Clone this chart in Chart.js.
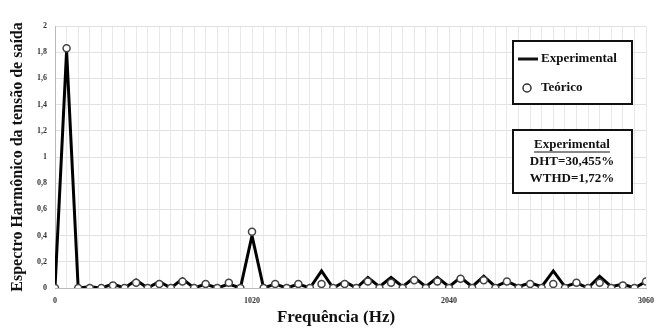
<!DOCTYPE html>
<html>
<head>
<meta charset="utf-8">
<script src="https://cdn.jsdelivr.net/npm/chart.js@4/dist/chart.umd.min.js"></script>
<style>
  html, body { margin: 0; padding: 0; background: #fff; }
  #wrap { width: 662px; height: 330px; }
</style>
</head>
<body>
<div id="wrap"><canvas id="grafico" width="662" height="330"></canvas></div>
<script>
// Harmonic frequencies (Hz), multiples of the 60 Hz fundamental
const frequencias = [0, 60, 120, 180, 240, 300, 360, 420, 480, 540, 600, 660, 720, 780, 840, 900, 960, 1020,
  1080, 1140, 1200, 1260, 1320, 1380, 1440, 1500, 1560, 1620, 1680, 1740, 1800, 1860, 1920, 1980, 2040,
  2100, 2160, 2220, 2280, 2340, 2400, 2460, 2520, 2580, 2640, 2700, 2760, 2820, 2880, 2940, 3000, 3060];

// Measured output-voltage harmonic amplitudes
const experimental = [0, 1.81, 0, 0.01, 0, 0.03, 0, 0.06, 0, 0.05, 0, 0.07, 0, 0.03, 0, 0.03, 0, 0.40,
  0, 0.03, 0, 0.03, 0, 0.13, 0, 0.05, 0, 0.08, 0.01, 0.08, 0.01, 0.08, 0.01, 0.08, 0.01,
  0.08, 0.01, 0.09, 0.01, 0.05, 0.01, 0.04, 0.01, 0.13, 0.01, 0.04, 0, 0.09, 0.01, 0.03, 0, 0.05];

// Theoretical harmonic amplitudes
const teorico = [0, 1.83, 0, 0, 0, 0.02, 0, 0.04, 0, 0.03, 0, 0.05, 0, 0.03, 0, 0.04, 0, 0.43,
  0, 0.03, 0, 0.03, 0, 0.03, 0, 0.03, 0, 0.05, 0, 0.04, 0, 0.06, 0, 0.05, 0,
  0.07, 0, 0.06, 0, 0.05, 0, 0.03, 0, 0.03, 0, 0.04, 0, 0.04, 0, 0.02, 0, 0.05];

// Labelled frequency ticks
const rotulosX = [0, 1020, 2040, 3060];

// Summary figures of the measured spectrum
const resumoTitulo = 'Experimental';
const resumoLinhas = ['DHT=30,455%', 'WTHD=1,72%'];

const serif = "'Liberation Serif', 'Times New Roman', serif";

const pontos = (ys) => frequencias.map((f, i) => ({ x: f, y: ys[i] }));

// Legend box, summary box and x-axis title drawn over the chart
const caixas = {
  id: 'caixas',
  afterDraw(chart) {
    const ctx = chart.ctx;
    ctx.save();
    ctx.fillStyle = '#fff';
    ctx.strokeStyle = '#111';
    ctx.lineWidth = 2;

    // legend
    ctx.fillRect(513, 41, 119, 63);
    ctx.strokeRect(513, 41, 119, 63);
    ctx.beginPath();
    ctx.lineWidth = 3;
    ctx.moveTo(518, 59); ctx.lineTo(538, 59);
    ctx.stroke();
    ctx.lineWidth = 1.5;
    ctx.beginPath();
    ctx.arc(527, 88, 4, 0, Math.PI * 2);
    ctx.fillStyle = '#fff'; ctx.fill();
    ctx.strokeStyle = '#333'; ctx.stroke();

    ctx.fillStyle = '#111';
    ctx.font = 'bold 13px ' + serif;
    ctx.textBaseline = 'middle';
    ctx.textAlign = 'left';
    ctx.fillText(chart.data.datasets[1].label, 541, 59);
    ctx.fillText(chart.data.datasets[0].label, 541, 88);

    // summary box
    ctx.fillStyle = '#fff';
    ctx.strokeStyle = '#111';
    ctx.lineWidth = 2;
    ctx.fillRect(513, 130, 119, 63);
    ctx.strokeRect(513, 130, 119, 63);
    ctx.fillStyle = '#111';
    ctx.textAlign = 'center';
    ctx.fillText(resumoTitulo, 572, 145);
    const w = ctx.measureText(resumoTitulo).width;
    ctx.lineWidth = 1;
    ctx.beginPath();
    ctx.moveTo(572 - w / 2, 152); ctx.lineTo(572 + w / 2, 152);
    ctx.stroke();
    ctx.fillText(resumoLinhas[0], 572, 162);
    ctx.fillText(resumoLinhas[1], 572, 179);

    // x-axis title
    ctx.font = 'bold 17px ' + serif;
    ctx.fillText('Frequência (Hz)', 336, 318);
    ctx.restore();
  }
};

new Chart(document.getElementById('grafico'), {
  type: 'line',
  data: {
    datasets: [
      {
        label: 'Teórico',
        data: pontos(teorico),
        showLine: false,
        pointRadius: 3.5,
        pointBorderWidth: 1.5,
        pointBackgroundColor: '#fff',
        pointBorderColor: '#444',
        order: 0
      },
      {
        label: 'Experimental',
        data: pontos(experimental),
        borderColor: '#000',
        borderWidth: 3,
        pointRadius: 0,
        tension: 0,
        fill: false,
        order: 1
      }
    ]
  },
  options: {
    responsive: false,
    devicePixelRatio: 1,
    animation: false,
    layout: { padding: { top: 26, right: 15, left: 0, bottom: 0 } },
    plugins: {
      legend: { display: false },
      tooltip: { enabled: false }
    },
    scales: {
      x: {
        type: 'linear',
        min: 0,
        max: 3060,
        afterFit(s) { s.height = 42; },
        grid: { color: '#e8e8e8', drawTicks: false, lineWidth: 1 },
        border: { color: '#bbb' },
        ticks: {
          stepSize: 60,
          autoSkip: false,
          maxRotation: 0,
          padding: 8,
          color: '#333',
          font: { family: serif, size: 8, weight: 'bold' },
          callback: (v) => rotulosX.includes(v) ? String(v) : ''
        }
      },
      y: {
        min: 0,
        max: 2,
        afterFit(s) { s.width = 55; },
        grid: { color: '#e2e2e2', drawTicks: false },
        border: { color: '#bbb' },
        ticks: {
          stepSize: 0.2,
          padding: 8,
          color: '#333',
          font: { family: serif, size: 8, weight: 'bold' },
          callback: (v) => String(Math.round(v * 10) / 10).replace('.', ',')
        },
        title: {
          display: true,
          text: 'Espectro Harmônico da tensão de saída',
          color: '#111',
          font: { family: serif, size: 16, weight: 'bold' },
          padding: { top: 8, bottom: 0 }
        }
      }
    }
  },
  plugins: [caixas]
});
</script>
</body>
</html>
